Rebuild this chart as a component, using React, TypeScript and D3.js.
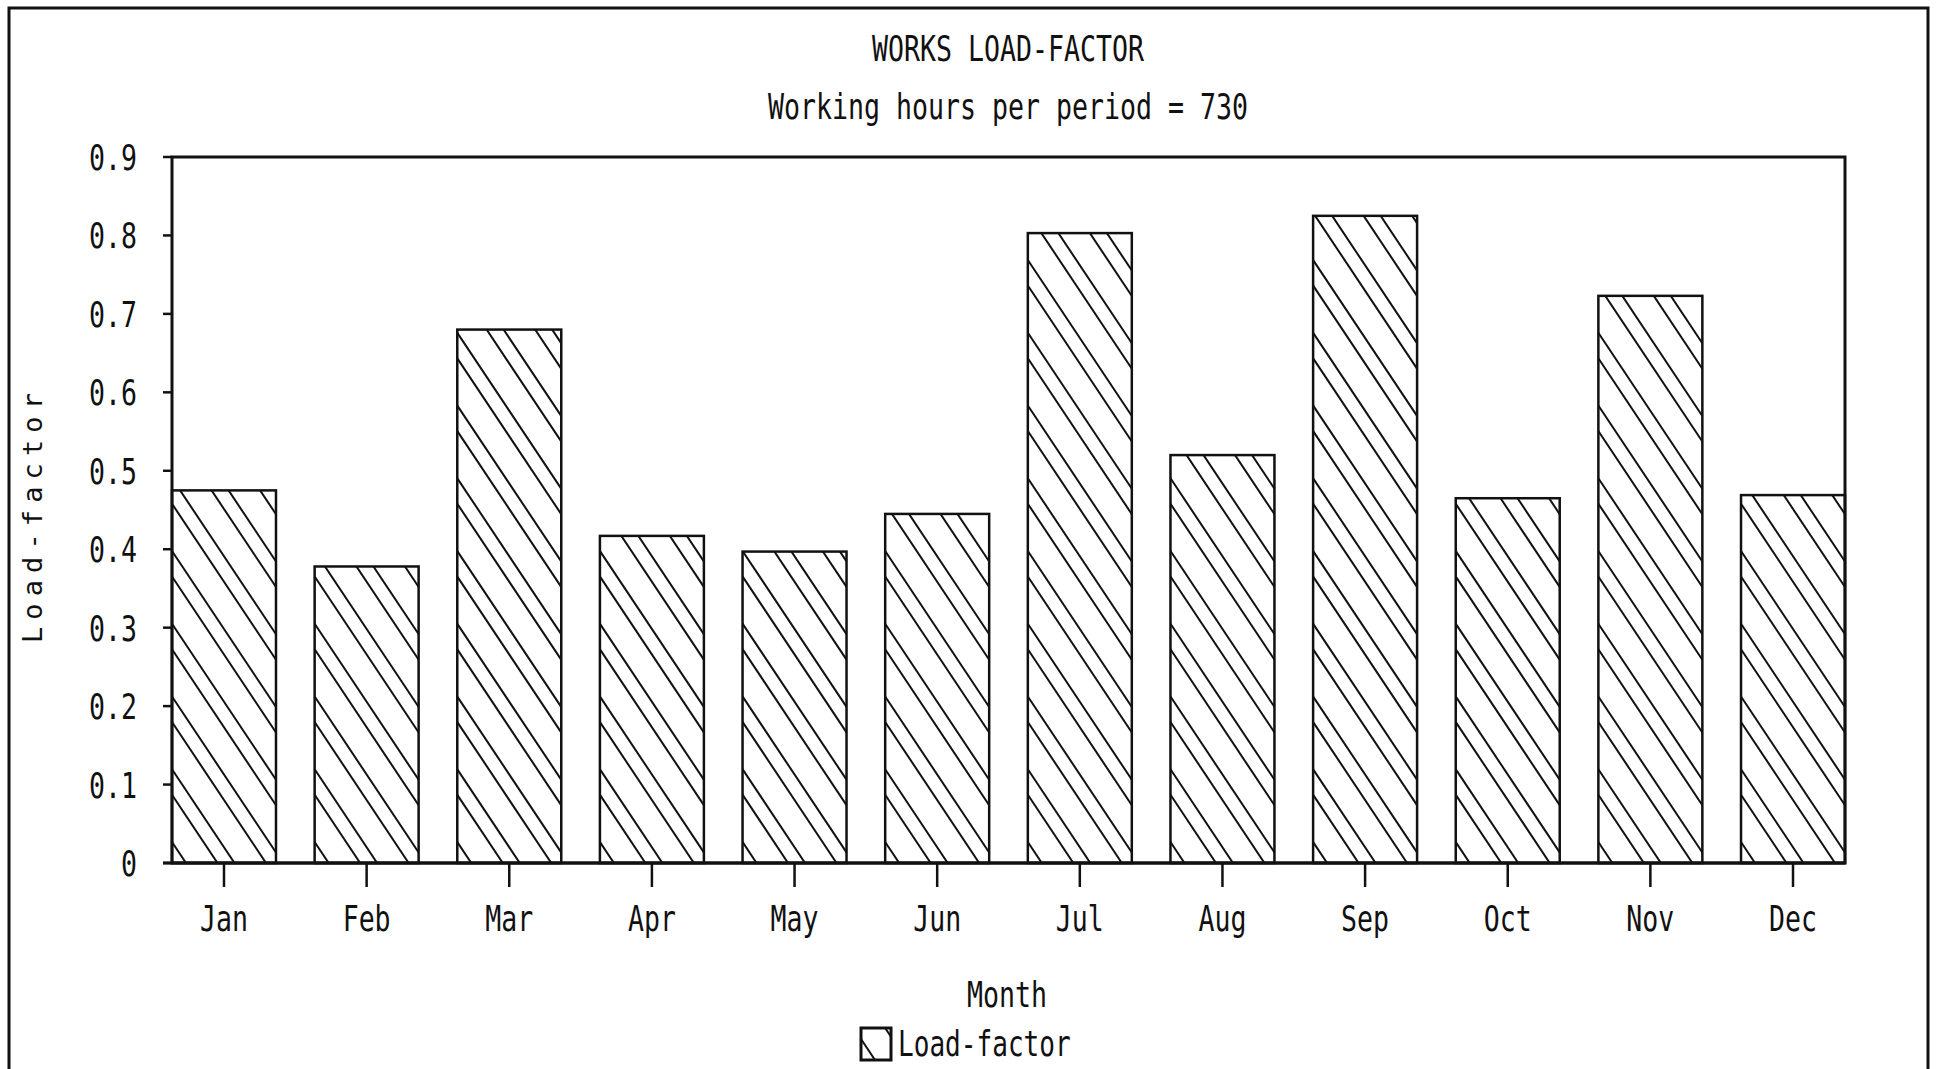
import React from 'react';
import * as d3 from 'd3';

const months = ['Jan', 'Feb', 'Mar', 'Apr', 'May', 'Jun', 'Jul', 'Aug', 'Sep', 'Oct', 'Nov', 'Dec'];
const loadFactor = [0.475, 0.378, 0.68, 0.417, 0.397, 0.445, 0.803, 0.52, 0.825, 0.465, 0.723, 0.469];
const yTicks = [0, 0.1, 0.2, 0.3, 0.4, 0.5, 0.6, 0.7, 0.8, 0.9];
const yTickLabels = ['0', '0.1', '0.2', '0.3', '0.4', '0.5', '0.6', '0.7', '0.8', '0.9'];

const W = 1937;
const H = 1069;
const FONT = '"DejaVu Sans Mono", monospace';
const CHAR_W = 16; // plotter font is narrow: fixed advance per char

// plot area
const left = 172;
const right = 1845;
const top = 157;
const bottom = 863;

// hatch: pairs of "\" lines anchored at each bar's bottom-left corner
const HATCH_PERIOD = 48.5;
const HATCH_OFFSETS = [-3, 14];
const HATCH_SLOPE = 1.5;

const Txt: React.FC<{ x: number; y: number; text: string; anchor?: string; size?: number; cw?: number }> = ({
  x,
  y,
  text,
  anchor = 'middle',
  size = 35,
  cw = CHAR_W,
}) => (
  <text
    x={x}
    y={y}
    textAnchor={anchor}
    fontFamily={FONT}
    fontSize={size}
    textLength={text.length * cw}
    lengthAdjust="spacingAndGlyphs"
    fill="#111"
  >
    {text}
  </text>
);

// diagonal hatch lines for a box, clipped later
const hatchLines = (x0: number, yBase: number, w: number, h: number) => {
  const lines: [number, number, number, number][] = [];
  const kMax = Math.ceil((w + h / HATCH_SLOPE) / HATCH_PERIOD) + 1;
  for (let k = -1; k <= kMax; k++) {
    for (const off of HATCH_OFFSETS) {
      const p = x0 + off + k * HATCH_PERIOD;
      lines.push([p, yBase, p - (h + 4) / HATCH_SLOPE, yBase - (h + 4)]);
    }
  }
  return lines;
};

export default function App() {
  const x = d3.scaleBand<string>().domain(months).range([left, right]).paddingInner(0.271).paddingOuter(0);
  const y = d3.scaleLinear().domain([0, 0.9]).range([bottom, top]);

  const legend = { x: 861, y: 1028, w: 30, h: 32 };

  return (
    <svg
      width={W}
      height={H}
      style={{ position: 'absolute', left: 0, top: 0, display: 'block', background: '#fff' }}
    >
      <defs>
        {months.map((m, i) => (
          <clipPath key={m} id={`clip-${i}`}>
            <rect x={x(m)} y={y(loadFactor[i])} width={x.bandwidth()} height={y(0) - y(loadFactor[i])} />
          </clipPath>
        ))}
        <clipPath id="clip-legend">
          <rect x={legend.x} y={legend.y} width={legend.w} height={legend.h} />
        </clipPath>
      </defs>

      {/* outer frame (bottom edge is off the page) */}
      <path d={`M9,${H + 5} L9,8 L1928,8 L1928,${H + 5}`} fill="none" stroke="#111" strokeWidth={3} />

      <Txt x={1008} y={61} text="WORKS LOAD-FACTOR" />
      <Txt x={1008} y={119} text="Working hours per period = 730" />

      {/* bars */}
      {months.map((m, i) => {
        const bx = x(m) as number;
        const by = y(loadFactor[i]);
        const bw = x.bandwidth();
        const bh = y(0) - by;
        return (
          <g key={m}>
            <rect x={bx} y={by} width={bw} height={bh} fill="#fff" />
            <g clipPath={`url(#clip-${i})`}>
              {hatchLines(bx, y(0), bw, bh).map((l, j) => (
                <line key={j} x1={l[0]} y1={l[1]} x2={l[2]} y2={l[3]} stroke="#111" strokeWidth={2} />
              ))}
            </g>
            <rect x={bx} y={by} width={bw} height={bh} fill="none" stroke="#111" strokeWidth={2.5} />
          </g>
        );
      })}

      {/* plot box */}
      <rect x={left} y={y(0.9)} width={right - left} height={y(0) - y(0.9)} fill="none" stroke="#111" strokeWidth={3} />
      <line x1={163} x2={right} y1={y(0)} y2={y(0)} stroke="#111" strokeWidth={3} />

      {/* y axis */}
      {yTicks.map((t, i) => (
        <g key={t}>
          <line x1={163} x2={left} y1={y(t)} y2={y(t)} stroke="#111" strokeWidth={2.5} />
          <Txt x={137} y={y(t) + 13} text={yTickLabels[i]} anchor="end" />
        </g>
      ))}
      <g transform={`translate(42,${(top + bottom) / 2 + 8}) rotate(-90)`}>
        <text
          x={0}
          y={0}
          textAnchor="middle"
          fontFamily={FONT}
          fontSize={27}
          textLength={250}
          lengthAdjust="spacing"
          fill="#111"
        >
          Load-factor
        </text>
      </g>

      {/* x axis */}
      {months.map((m) => {
        const cx = (x(m) as number) + x.bandwidth() / 2;
        return (
          <g key={m}>
            <line x1={cx} x2={cx} y1={y(0)} y2={y(0) + 24} stroke="#111" strokeWidth={2.5} />
            <Txt x={cx} y={931} text={m} />
          </g>
        );
      })}
      <Txt x={1007} y={1007} text="Month" />

      {/* legend */}
      <rect x={legend.x} y={legend.y} width={legend.w} height={legend.h} fill="#fff" />
      <g clipPath="url(#clip-legend)">
        {hatchLines(legend.x, legend.y + legend.h, legend.w, legend.h).map((l, j) => (
          <line key={j} x1={l[0]} y1={l[1]} x2={l[2]} y2={l[3]} stroke="#111" strokeWidth={2} />
        ))}
      </g>
      <rect x={legend.x} y={legend.y} width={legend.w} height={legend.h} fill="none" stroke="#111" strokeWidth={3} />
      <Txt x={898} y={1056} text="Load-factor" anchor="start" cw={15.7} />
    </svg>
  );
}
